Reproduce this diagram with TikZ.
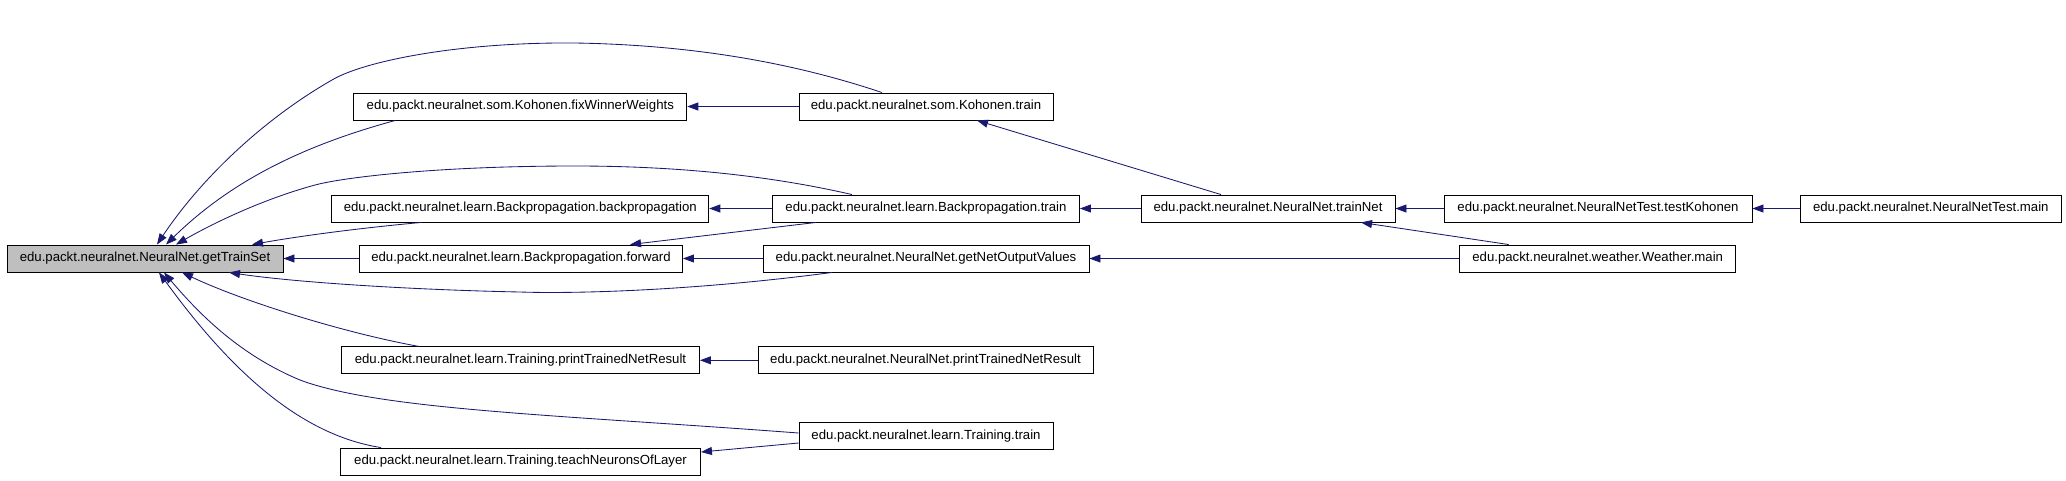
\documentclass[tikz,border=0pt]{standalone}
\usepackage{fontspec}
\setmainfont{Liberation Sans}
\usetikzlibrary{arrows.meta,calc}
\definecolor{edgeblue}{HTML}{191970}
\definecolor{boxgray}{HTML}{BFBFBF}
\begin{document}
\begin{tikzpicture}[x=1pt,y=-1pt,
  fn/.style={draw=black,line width=0.9pt,fill=white,minimum height=27pt,inner sep=0pt,
    font=\fontsize{13.2}{15}\selectfont},
  edge/.style={draw=edgeblue,line width=0.85pt,-{Triangle[length=11pt,width=8pt]}}]
\useasboundingbox (0,0) rectangle (2066,480);
% nodes
\node[fn,fill=boxgray,minimum width=276pt] (gts) at (145,258.5) {edu.packt.neuralnet.NeuralNet.getTrainSet};
\node[fn,minimum width=333pt] (fww) at (520.3,106.5) {edu.packt.neuralnet.som.Kohonen.fixWinnerWeights};
\node[fn,minimum width=254pt] (kt) at (926,106.5) {edu.packt.neuralnet.som.Kohonen.train};
\node[fn,minimum width=377pt] (bpb) at (520.3,208.5) {edu.packt.neuralnet.learn.Backpropagation.backpropagation};
\node[fn,minimum width=307pt] (bpt) at (926,208.5) {edu.packt.neuralnet.learn.Backpropagation.train};
\node[fn,minimum width=254pt] (tn) at (1268,208.5) {edu.packt.neuralnet.NeuralNet.trainNet};
\node[fn,minimum width=308pt] (tk) at (1598,208.5) {edu.packt.neuralnet.NeuralNetTest.testKohonen};
\node[fn,minimum width=261pt] (ntm) at (1930.8,208.5) {edu.packt.neuralnet.NeuralNetTest.main};
\node[fn,minimum width=323pt] (fwd) at (521,258.5) {edu.packt.neuralnet.learn.Backpropagation.forward};
\node[fn,minimum width=326pt] (gnov) at (926,258.5) {edu.packt.neuralnet.NeuralNet.getNetOutputValues};
\node[fn,minimum width=276pt] (wm) at (1597.7,258.5) {edu.packt.neuralnet.weather.Weather.main};
\node[fn,minimum width=358pt] (tpr) at (520.5,360.3) {edu.packt.neuralnet.learn.Training.printTrainedNetResult};
\node[fn,minimum width=335pt] (npr) at (925.5,360.3) {edu.packt.neuralnet.NeuralNet.printTrainedNetResult};
\node[fn,minimum width=254pt] (tt) at (926,436) {edu.packt.neuralnet.learn.Training.train};
\node[fn,minimum width=360pt] (tnl) at (520.5,461.5) {edu.packt.neuralnet.learn.Training.teachNeuronsOfLayer};
% straight edges
\draw[edge] (kt.west) -- (fww.east);
\draw[edge] (bpt.west) -- (bpb.east);
\draw[edge] (tn.west) -- (bpt.east);
\draw[edge] (tk.west) -- (tn.east);
\draw[edge] (ntm.west) -- (tk.east);
\draw[edge] (fwd.west) -- (gts.east);
\draw[edge] (gnov.west) -- (fwd.east);
\draw[edge] (wm.west) -- (gnov.east);
\draw[edge] (npr.west) -- (tpr.east);
\draw[edge] ($(bpt.south)+(-110,0)$) -- ($(fwd.north)+(109,0)$);
\draw[edge] ($(tn.north)+(-47,0)$) -- ($(kt.south)+(51,0)$);
\draw[edge] ($(wm.north)+(-89,0)$) -- ($(tn.south)+(93,0)$);
\draw[edge] ($(tt.west)+(0,7)$) -- ($(tnl.east)+(0,-9.5)$);
% curved edges into getTrainSet
\draw[edge] ($(kt.north)+(-44,0)$) .. controls (800,65) and (700,45) .. (575,43)
  .. controls (455,42) and (362,62) .. (332,80)
  .. controls (262,120) and (200,180) .. ($(gts.north)+(12,0)$);
\draw[edge] ($(fww.south)+(-125,0)$) .. controls (305,145) and (232,180) .. ($(gts.north)+(21,0)$);
\draw[edge] ($(bpt.north)+(-74,0)$) .. controls (780,178) and (690,166) .. (575,166)
  .. controls (440,166) and (345,177) .. (315,185)
  .. controls (260,200) and (210,225) .. ($(gts.north)+(31,0)$);
\draw[edge] ($(bpb.south)+(-99,0)$) .. controls (360,228) and (300,236) .. ($(gts.north)+(107,0)$);
\draw[edge] ($(gnov.south)+(-94,0)$) .. controls (700,290) and (580,294) .. (520,292)
  .. controls (420,290) and (300,283) .. ($(gts.south)+(84,0)$);
\draw[edge] ($(tpr.north)+(-102,0)$) .. controls (340,332) and (240,300) .. ($(gts.south)+(37,0)$);
\draw[edge] ($(tt.west)+(0,-3)$) .. controls (560,415) and (380,410) .. (300,380)
  .. controls (240,355) and (200,315) .. ($(gts.south)+(19,0)$);
\draw[edge] ($(tnl.north)+(-139.5,0)$) .. controls (300,435) and (230,370) .. ($(gts.south)+(14,0)$);
\end{tikzpicture}
\end{document}
